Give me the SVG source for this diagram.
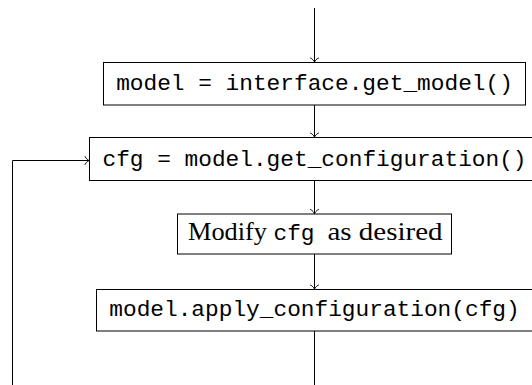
<svg xmlns="http://www.w3.org/2000/svg" width="532" height="385" viewBox="0 0 532 385">
<defs>
<style>
.box{fill:#fff;stroke:#000;stroke-width:1}
.mono{font-family:"Liberation Mono","DejaVu Sans Mono",monospace;font-size:22.8px;fill:#000}
.serif{font-family:"Liberation Serif","DejaVu Serif",serif;font-size:26px;fill:#000}
.edge{fill:none;stroke:#000;stroke-width:1}
</style>
<marker id="to" markerUnits="userSpaceOnUse" markerWidth="12" markerHeight="12" viewBox="-6 -6 12 12" refX="0" refY="0" orient="auto">
<path d="M-4.5,-4 C-3.5,-1.5 -1.2,-0.3 0,0 C-1.2,0.3 -3.5,1.5 -4.5,4" fill="none" stroke="#000" stroke-width="0.9" stroke-linecap="round"/>
</marker>
</defs>
<g id="connectors">
<line class="edge" x1="314.5" y1="8" x2="314.5" y2="62.5" marker-end="url(#to)"/>
<line class="edge" x1="314.5" y1="105" x2="314.5" y2="137.5" marker-end="url(#to)"/>
<line class="edge" x1="314.5" y1="180.5" x2="314.5" y2="214" marker-end="url(#to)"/>
<line class="edge" x1="314.5" y1="254" x2="314.5" y2="289.5" marker-end="url(#to)"/>
<line class="edge" x1="314.5" y1="331" x2="314.5" y2="385"/>
<polyline class="edge" points="12.5,385 12.5,160.5 89.5,160.5" marker-end="url(#to)"/>
</g>
<g id="node1">
<rect class="box" x="103.5" y="62.5" width="422" height="42.5"/>
<text class="mono" x="314.5" y="90" text-anchor="middle">model = interface.get_model()</text>
</g>
<g id="node2">
<rect class="box" x="89.5" y="137.5" width="450" height="43"/>
<text class="mono" x="314.5" y="165.5" text-anchor="middle">cfg = model.get_configuration()</text>
</g>
<g id="node3">
<rect class="box" x="177.5" y="214" width="274" height="40"/>
<text class="serif" x="188" y="240" textLength="79" lengthAdjust="spacingAndGlyphs">Modify</text>
<text class="mono" x="273.5" y="240">cfg</text>
<text class="serif" x="327.5" y="240" textLength="115" lengthAdjust="spacingAndGlyphs">as desired</text>
</g>
<g id="node4">
<rect class="box" x="96.5" y="289.5" width="436" height="41.5"/>
<text class="mono" x="314.5" y="316" text-anchor="middle">model.apply_configuration(cfg)</text>
</g>
</svg>
